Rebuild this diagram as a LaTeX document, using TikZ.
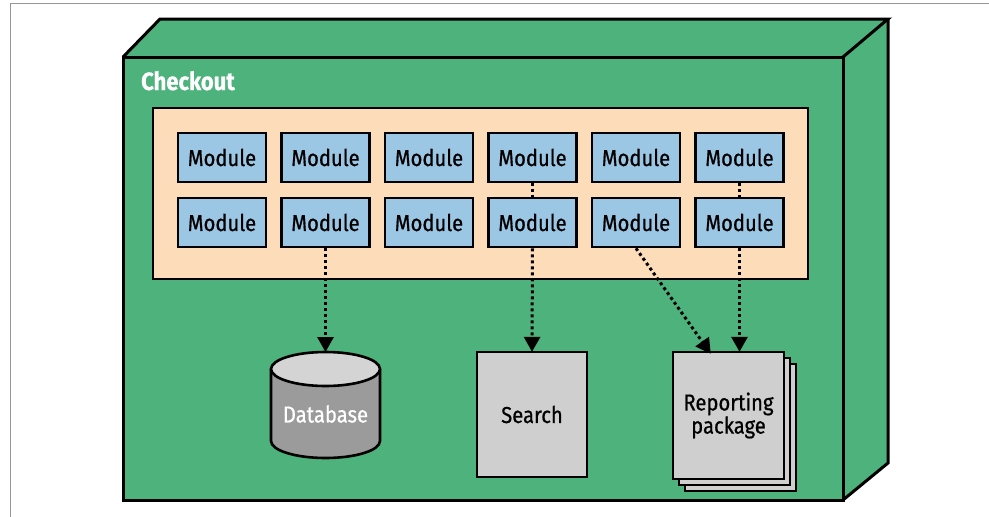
\documentclass[tikz,border=0pt]{standalone}
\usepackage{fontspec}
\setmainfont{Fira Sans}[FakeStretch=0.88, FakeBold=0.7]
\usetikzlibrary{arrows.meta,calc}

\definecolor{boxgreen}{RGB}{77,178,124}
\definecolor{peach}{RGB}{253,220,186}
\definecolor{modblue}{RGB}{155,199,229}
\definecolor{pagegray}{RGB}{207,207,207}
\definecolor{dbbody}{RGB}{155,155,155}
\definecolor{dbtop}{RGB}{212,212,212}
\definecolor{framegray}{RGB}{150,150,150}

\tikzset{
  outline/.style={draw=black, line width=3pt, line join=miter},
  modbox/.style={draw=black, line width=2.6pt, fill=modblue, minimum width=88pt,
    minimum height=49pt, inner sep=0pt, font=\fontsize{23}{25}\selectfont},
  page/.style={draw=black, line width=2.6pt, fill=pagegray},
  label/.style={inner sep=0pt, font=\fontsize{23}{21}\selectfont, align=center},
  dotlink/.style={draw=black, line width=3pt, dash pattern=on 3pt off 3pt},
  deplink/.style={dotlink, -{Triangle[width=16pt,length=15pt]}},
}

\begin{document}
\begin{tikzpicture}[x=1pt,y=-1pt]
\useasboundingbox (0,0) rectangle (989,517);

% thin frame along the left and top edges
\draw[framegray, line width=1.3pt] (10.5,517) -- (10.5,3.5) -- (989,3.5);

% the Checkout container, drawn as a box with top and right faces
\fill[boxgreen] (123,57) -- (160,19) -- (888,19) -- (888,463) -- (843,500) -- (123,500) -- cycle;
\draw[outline] (123,57) -- (160,19) -- (888,19) -- (843,57);
\draw[outline] (888,19) -- (888,463) -- (843,500);
\draw[outline] (123,57) rectangle (843,500);
\node[anchor=base west, inner sep=0pt, text=white,
      font=\fontsize{25}{27}\selectfont\bfseries] (checkout) at (141,90) {Checkout};

% module area
\draw[outline, line width=2.6pt, fill=peach] (153,108) rectangle (808,279);

\foreach \c in {1,...,6} {
  \node[modbox] (m1\c) at ({222+103.5*(\c-1)},157.5) {Module};
  \node[modbox] (m2\c) at ({222+103.5*(\c-1)},222.5) {Module};
}

% database cylinder
\fill[dbbody] (271,369) -- (271,441) arc[start angle=180, end angle=0, x radius=54.5, y radius=17]
  -- (380,369) -- cycle;
\draw[outline, line width=2.6pt] (271,369) -- (271,441) arc[start angle=180, end angle=0, x radius=54.5, y radius=17]
  -- (380,369);
\draw[outline, line width=2.6pt, fill=dbtop] (325.5,369) ellipse[x radius=54.5, y radius=17];
\node[label, text=white] (db) at (325.5,414) {Database};
\coordinate (dbtopc) at (325.5,352);

% search service
\draw[page] (477,352) rectangle (587,477);
\node[label, minimum width=110pt, minimum height=125pt] (search) at (532,414.5) {Search};

% stacked reporting package
\draw[page] (685,364) rectangle (796,491);
\draw[page] (679,358) rectangle (790,485);
\draw[page] (673,352) rectangle (784,479);
\node[label, minimum width=111pt, minimum height=127pt] (rp) at (728.5,415.5) {Reporting\\package};

% links between modules
\draw[dotlink] (m14.south) -- (m24.north);
\draw[dotlink] (m16.south) -- (m26.north);

% dependencies leaving the module area
\draw[deplink] (m22.south) -- (dbtopc);
\draw[deplink] (m24.south) -- (search.north);
\draw[deplink] (m25.south) -- ([xshift=38pt,yshift=-2pt]rp.north west);
\draw[deplink] (m26.south) -- (m26.south |- rp.north);
\end{tikzpicture}
\end{document}
